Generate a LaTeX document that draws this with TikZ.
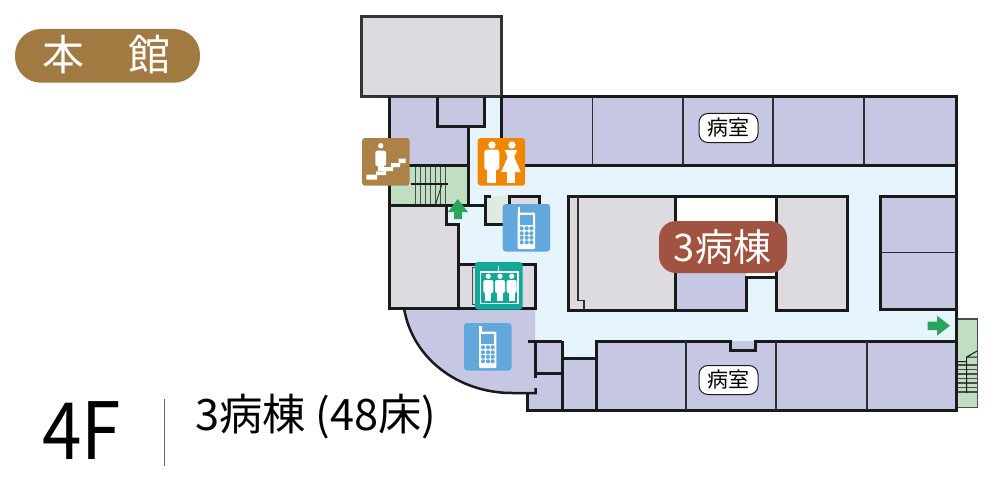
\documentclass[tikz,border=0pt]{standalone}
\usepackage{fontspec}
\setmainfont{Noto Sans CJK JP}
\definecolor{roomcol}{HTML}{C6C7E2}
\definecolor{hallcol}{HTML}{E6F4FD}
\definecolor{greycol}{HTML}{DDDBE0}
\definecolor{stepcol}{HTML}{C0DFC2}
\definecolor{palecol}{HTML}{DFEBE0}
\definecolor{wallcol}{HTML}{1A1A1A}
\definecolor{exitcol}{HTML}{2AA55A}
\definecolor{phonecol}{HTML}{62A8DD}
\definecolor{titlecol}{HTML}{A17A42}
\definecolor{stairicon}{HTML}{AD8248}
\definecolor{toileticon}{HTML}{F18700}
\definecolor{lifticon}{HTML}{12A89A}
\definecolor{badgecol}{HTML}{A05340}
\newcommand{\fsize}[1]{\fontsize{#1}{#1}\selectfont}
\tikzset{
  wall/.style={draw=wallcol, line width=3pt},
  thinwall/.style={draw=wallcol!80!gray, line width=1.5pt},
  tread/.style={draw=black!70, line width=1pt},
  iconbox/.style={rounded corners=3pt, fill=#1},
  pill/.style={draw=wallcol, line width=1pt, fill=white, rounded corners=9pt, minimum width=59pt, minimum height=29pt, inner sep=0pt, text=black},
  pics/phoneicon/.style={code={
    \fill[iconbox=phonecol] (0,0) rectangle (47.5,47.5);
    \fill[white, rounded corners=1pt] (15,8.7) rectangle (32.3,45);
    \fill[white] (15,3.3) rectangle (17.5,10);
    \fill[phonecol] (17.3,11) rectangle (30,21);
    \foreach \px in {19,24,28.7}
      \foreach \py in {24.3,29.3,33.7,38.3}
        \fill[phonecol] (\px,\py) circle (2.1);
  }},
}
\begin{document}
\begin{tikzpicture}[x=1pt,y=-1pt]
  \useasboundingbox (0,0) rectangle (1000,500);

  % title
  \fill[titlecol, rounded corners=26pt] (15,29) rectangle (200,82.7);
  \node[text=white, font=\fsize{42}] (titlea) at (63,54.5) {本};
  \node[text=white, font=\fsize{42}] (titleb) at (149,54.5) {館};

  % floor label
  \node[font=\fsize{79}, inner sep=0pt, xscale=0.9] (floor) at (81.5,431) {4F};
  \draw[color=black!60, line width=1pt] (164,399) -- (164,466);
  \node[font=\fsize{43.3}, inner sep=0pt, anchor=west] (wards) at (195,417) {3病棟 (48床)};

  % corridor
  \fill[hallcol] (468,126) -- (484,126) -- (484,97) -- (501,97) -- (501,165) -- (956,165)
    -- (956,341) -- (535,341) -- (535,264) -- (458,264) -- (458,224) -- (446,224) -- (446,205) -- (468,205) -- cycle;
  \fill[hallcol] (562,341) rectangle (596,358);

  % rooms
  \fill[roomcol] (389.5,97) rectangle (468,165);
  \fill[roomcol] (468,97) rectangle (484,126);
  \fill[roomcol] (501,97) rectangle (956,165);
  \fill[roomcol] (880,196) rectangle (956,309);
  \fill[roomcol] (596,341) rectangle (956,410);
  \fill[roomcol] (562,358) rectangle (596,410);
  \fill[roomcol] (404,308) .. controls (412,358) and (458,393) .. (512,393) -- (527,393) -- (527,410)
    -- (562,410) -- (562,341) -- (535,341) -- (535,308) -- cycle;
  \fill[roomcol] (675,260) rectangle (746,310);

  % grey blocks
  \fill[greycol] (361.7,16.7) rectangle (501.7,97);
  \fill[greycol] (389.5,205) -- (446,205) -- (446,224) -- (458,224) -- (458,308) -- (389.5,308) -- cycle;
  \fill[greycol] (458,264) rectangle (535,308);
  \fill[greycol] (509,196) rectangle (539,224);
  \fill[greycol] (568,196) rectangle (675,310);
  \fill[greycol] (776.7,196) rectangle (847,310);
  \fill[white] (675,196) rectangle (776.7,260);
  \fill[white] (746,260) rectangle (776.7,277);

  % stairs
  \fill[stepcol] (389.5,165) rectangle (468,205);
  \fill[stepcol] (956,319) rectangle (977.7,407.7);
  \fill[palecol] (485,196) rectangle (509,224);
  \foreach \sx in {415,420,425,430,435,440,445.7}
    \draw[tread] (\sx,166) -- (\sx,205);
  \draw[wall, line width=2pt] (411,183.5) -- (448,183.5);
  \draw[wallcol, line width=0.8pt] (442,184) -- (435.7,204);
  \foreach \sy in {365,369.5,374,378.5,383,387.5,392}
    \draw[tread, line width=1.3pt] (957,\sy) -- (977,\sy);
  \draw[wallcol, line width=1pt] (957,361.5) -- (966.7,361.5) (966.7,393) -- (966.7,357) -- (977,351) (966.7,357) -- (977,357);
  \draw[draw=black!70, line width=1.5pt] (956,319) rectangle (977.7,407.7);

  % walls
  \draw[wall, draw=black!80] (361.7,16.7) rectangle (501.7,97);
  \draw[wall] (501,97) -- (956,97) -- (956,410) -- (527.5,410) -- (527.5,392.5);
  \draw[wall] (501,97) -- (501,165) -- (956,165);
  \draw[wall] (389.5,97) -- (389.5,308) -- (535,308) -- (535,264) -- (458,264);
  \draw[wall] (437.5,97) -- (437.5,126.5) -- (484.5,126.5) -- (484.5,97);
  \draw[wall] (468,126.5) -- (468,205);
  \draw[wall] (389.5,165) -- (468,165);
  \draw[wall] (389.5,205.5) -- (485,205.5);
  \draw[wall] (446,205.5) -- (446,224) -- (458,224) -- (458,308);
  \draw[wall] (491,196) -- (485,196) -- (485,224) -- (509,224) -- (509,196) -- (539.5,196) -- (539.5,224);

  % lobby
  \draw[wallcol, line width=2.5pt] (404,308) .. controls (412,358) and (458,393) .. (512,393) -- (535.5,393) -- (535.5,388);
  \draw[wall] (528,341) -- (562,341) (535.5,341) -- (535.5,378) (535.5,373) -- (562,373);
  \draw[wall] (562,341) -- (562,410) (562,358) -- (596,358) (596,410) -- (596,341) -- (730,341) -- (730,350)
    -- (755,350) -- (755,341) -- (956,341);

  % centre block
  \draw[wall] (675,310) -- (568,310) -- (568,196) -- (847,196) -- (847,310) -- (776.7,310) -- (776.7,277) -- (746,277) -- (746,310) -- (675,310);
  \draw[wall] (675,196) -- (675,310) (776.7,196) -- (776.7,277);
  \draw[thinwall] (578,196) -- (578,300.7) -- (584,300.7) -- (584,310);
  \draw[wall] (956,309.5) -- (880,309.5) -- (880,196) -- (956,196);

  % dividers
  \draw[thinwall] (592.5,97) -- (592.5,165) (683,97) -- (683,165) (773,97) -- (773,165) (864,97) -- (864,165);
  \draw[thinwall] (686,341) -- (686,410) (776,341) -- (776,410) (867,341) -- (867,410);
  \draw[thinwall] (880,252.7) -- (956,252.7);
  \draw[black!70, line width=1pt] (475,267) -- (472,267) -- (472,304) -- (475,304);

  % exit arrows
  \fill[exitcol] (457.7,199) -- (468,212) -- (462,212) -- (462,219) -- (454,219) -- (454,212) -- (448,212) -- cycle;
  \fill[exitcol] (950,325.7) -- (937,315.7) -- (937,321.7) -- (927.7,321.7) -- (927.7,330) -- (937,330) -- (937,335.7) -- cycle;

  % stair icon
  \begin{scope}[shift={(362,138)}]
    \fill[iconbox=stairicon] (0,0) rectangle (47.5,47.7);
    \fill[white] (18.7,7.7) circle (2.7);
    \fill[white, rounded corners=2pt] (13.3,12.7) rectangle (24,28);
    \fill[white] (16,25) rectangle (22,33);
    \fill[white] (4.3,36.7) -- (14,36.7) -- (14,33.3) -- (22,33.3) -- (22,29) -- (29,29) -- (29,25) -- (36.7,25) -- (36.7,20.7)
      -- (43.7,20.7) -- (43.7,25) -- (38,25) -- (38,29) -- (31,29) -- (31,33) -- (24,33) -- (24,37) -- (15,37) -- (15,41.7) -- (4.3,41.7) -- cycle;
  \end{scope}

  % toilet icon
  \begin{scope}[shift={(477.7,138)}]
    \fill[iconbox=toileticon] (0,0) rectangle (47.5,47.7);
    \fill[white] (14.3,7) circle (3.7);
    \fill[white] (34.3,7) circle (3.7);
    \fill[white, rounded corners=2.5pt] (6.6,11.5) rectangle (21.6,32);
    \fill[white] (9,28) rectangle (18.5,45);
    \fill[white] (27,12) -- (39.5,12) -- (36.5,19) -- (43,34) -- (23.5,34) -- (30,19) -- cycle;
    \fill[white] (29.5,33) rectangle (37.5,45);
  \end{scope}

  % phones
  \pic at (502.7,204) {phoneicon};
  \pic at (464,323) {phoneicon};

  % lift icon
  \begin{scope}[shift={(475,262)}]
    \fill[iconbox=lifticon] (0,0) rectangle (47.5,47.5);
    \draw[white, line width=1.5pt] (5.5,41.5) -- (43,41.5) -- (43,10) -- (5.5,10) -- cycle (23.5,3.5) -- (23.5,10);
    \foreach \lx in {13.3,25,36.7}{
      \fill[white] (\lx,14.3) circle (2.6);
      \fill[white, rounded corners=2pt] (\lx-5,18) rectangle (\lx+5,31);
      \fill[white] (\lx-3,28) rectangle (\lx+3,39);
    }
  \end{scope}

  % badge
  \fill[badgecol, rounded corners=17pt] (659,221) rectangle (787,273);
  \node[text=white, font=\fsize{38}] (ward) at (722.5,247) {3病棟};

  % room labels
  \node[pill, font=\fsize{21}] (rooma) at (728.5,128) {病室};
  \node[pill, font=\fsize{21}] (roomb) at (728.5,380) {病室};
\end{tikzpicture}
\end{document}
